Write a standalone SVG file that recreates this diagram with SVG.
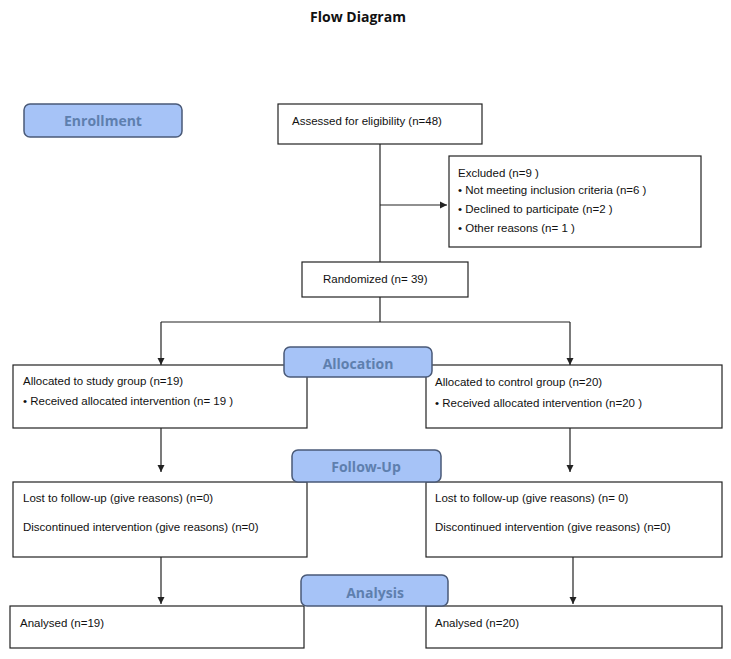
<svg xmlns="http://www.w3.org/2000/svg" width="731" height="659" viewBox="0 0 731 659">
<style>
.box{fill:#fff;stroke:#222;stroke-width:1.2}
.stage{fill:#a6c3f7;stroke:#4a5a78;stroke-width:1.5}
.st{font-family:"Open Sans","DejaVu Sans",sans-serif;font-size:14px;font-weight:bold;fill:#5e7fae;text-anchor:middle}
.t{font-family:"Liberation Sans",Arial,sans-serif;font-size:11.5px;fill:#111}
.ln{stroke:#222;stroke-width:1.2;fill:none}
</style>
<defs><marker id="a" viewBox="0 0 10 10" refX="10" refY="5" markerWidth="6" markerHeight="6" orient="auto"><path d="M0,0L10,5L0,10z" fill="#222"/></marker></defs>
<rect width="731" height="659" fill="#fff"/>
<text x="358" y="22" font-family="'Open Sans','DejaVu Sans',sans-serif" font-size="14" font-weight="bold" text-anchor="middle" fill="#111">Flow Diagram</text>
<g id="connectors">
<path class="ln" d="M380,144V262" stroke="#666" stroke-width="2"/>
<path class="ln" d="M380,205H447" stroke="#666" stroke-width="2" marker-end="url(#a)"/>
<path class="ln" d="M380,297V322M161,322H570"/>
<path class="ln" d="M161,322V365" marker-end="url(#a)"/>
<path class="ln" d="M570,322V365" marker-end="url(#a)"/>
<path class="ln" d="M161,428V472" marker-end="url(#a)"/>
<path class="ln" d="M570,428V472" marker-end="url(#a)"/>
<path class="ln" d="M161,557V604" marker-end="url(#a)"/>
<path class="ln" d="M573,557V604" marker-end="url(#a)"/>
</g>
<g id="enrollment"><rect class="stage" x="24" y="104" width="158" height="33" rx="6"/><text class="st" x="103" y="126">Enrollment</text></g>
<g id="assessed"><rect class="box" x="278" y="104" width="204" height="40"/><text class="t" x="292" y="125">Assessed for eligibility (n=48)</text></g>
<g id="excluded"><rect class="box" x="449" y="156" width="252" height="91"/>
<text class="t" x="458" y="177">Excluded (n=9   )</text>
<text class="t" x="458" y="194">•  Not meeting inclusion criteria (n=6   )</text>
<text class="t" x="458" y="213">•  Declined to participate (n=2   )</text>
<text class="t" x="458" y="232">•  Other reasons (n= 1 )</text></g>
<g id="randomized"><rect class="box" x="302" y="262" width="166" height="35"/><text class="t" x="323" y="283">Randomized (n= 39)</text></g>
<g id="alloc-left"><rect class="box" x="13" y="365" width="294" height="63"/>
<text class="t" x="23" y="385">Allocated to study group (n=19)</text>
<text class="t" x="23" y="405">• Received allocated intervention (n= 19 )</text></g>
<g id="alloc-right"><rect class="box" x="426" y="365" width="296" height="63"/>
<text class="t" x="435" y="386">Allocated to control group (n=20)</text>
<text class="t" x="435" y="407">• Received allocated intervention (n=20   )</text></g>
<g id="allocation"><rect class="stage" x="284" y="347" width="148" height="30" rx="6"/><text class="st" x="358" y="369">Allocation</text></g>
<g id="fu-left"><rect class="box" x="13" y="482" width="294" height="75"/>
<text class="t" x="23" y="502">Lost to follow-up (give reasons) (n=0)</text>
<text class="t" x="23" y="531">Discontinued intervention (give reasons) (n=0)</text></g>
<g id="fu-right"><rect class="box" x="426" y="482" width="296" height="75"/>
<text class="t" x="435" y="502">Lost to follow-up (give reasons) (n= 0)</text>
<text class="t" x="435" y="531">Discontinued intervention (give reasons) (n=0)</text></g>
<g id="followup"><rect class="stage" x="292" y="450" width="149" height="32" rx="6"/><text class="st" x="366" y="472">Follow-Up</text></g>
<g id="an-left"><rect class="box" x="10" y="606" width="294" height="42"/><text class="t" x="20" y="627">Analysed (n=19)</text></g>
<g id="an-right"><rect class="box" x="426" y="606" width="296" height="42"/><text class="t" x="435" y="627">Analysed (n=20)</text></g>
<g id="analysis"><rect class="stage" x="301" y="575" width="147" height="31" rx="6"/><text class="st" x="375" y="598">Analysis</text></g>
</svg>
